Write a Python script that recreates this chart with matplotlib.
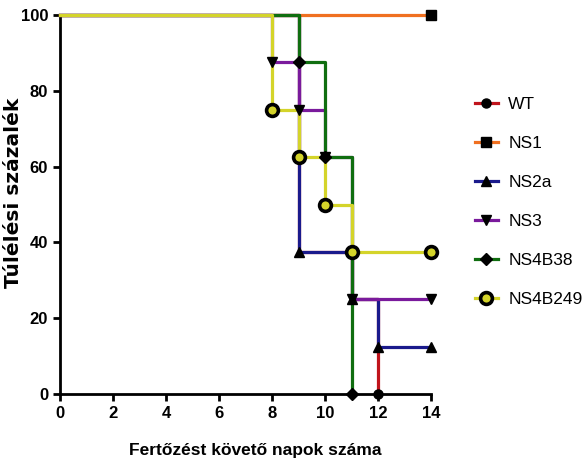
import matplotlib
matplotlib.use("Agg")
import matplotlib.pyplot as plt
from matplotlib.lines import Line2D

plt.rcParams['font.family'] = ['Liberation Sans', 'DejaVu Sans']

series_names = ["WT", "NS1", "NS2a", "NS3", "NS4B38", "NS4B249"]
colors = ["#c0141c", "#f07020", "#1a1a8c", "#7a1a9c", "#106e10", "#d4d42a"]
markers = ["o", "s", "^", "v", "D", "o"]

# step survival curves: (day, percent) after each drop
WT_t = [0, 9, 11, 12]
WT_s = [100, 37.5, 25, 0]
NS1_t = [0, 14]
NS1_s = [100, 100]
NS2a_t = [0, 9, 11, 12, 14]
NS2a_s = [100, 37.5, 25, 12.5, 12.5]
NS3_t = [0, 8, 9, 10, 11, 14]
NS3_s = [100, 87.5, 75, 62.5, 25, 25]
NS4B38_t = [0, 9, 10, 11]
NS4B38_s = [100, 87.5, 62.5, 0]
NS4B249_t = [0, 8, 9, 10, 11, 14]
NS4B249_s = [100, 75, 62.5, 50, 37.5, 37.5]

times = [WT_t, NS1_t, NS2a_t, NS3_t, NS4B38_t, NS4B249_t]
survs = [WT_s, NS1_s, NS2a_s, NS3_s, NS4B38_s, NS4B249_s]

x_ticks = [0, 2, 4, 6, 8, 10, 12, 14]
y_ticks = [0, 20, 40, 60, 80, 100]

fig = plt.figure(figsize=(5.86, 4.68), dpi=100)
ax = fig.add_axes([0.1024, 0.158, 0.6331, 0.81])

LW = 2.3
handles = []
for i, name in enumerate(series_names):
    t, s = times[i], survs[i]
    ax.step(t, s, where='post', color=colors[i], lw=LW, zorder=2 + i, clip_on=False)
    mk = markers[i]
    # WT: only its final point is visible in the figure
    mt, msv = (t[-1:], s[-1:]) if name == "WT" else (t[1:], s[1:])
    if name == "NS4B249":
        ax.plot(mt, msv, ls='none', marker='o', ms=8.5, mfc=colors[i], mec='black',
                mew=2.6, zorder=20 + i, clip_on=False)
        h = Line2D([], [], color=colors[i], lw=LW, marker='o', ms=8.5, mfc=colors[i],
                   mec='black', mew=2.6)
    else:
        ax.plot(mt, msv, ls='none', marker=mk, ms=6.5, color='black', zorder=20 + i,
                clip_on=False)
        h = Line2D([], [], color=colors[i], lw=LW, marker=mk, ms=6.5, mfc='black', mec='black')
    handles.append(h)

ax.set_xlim(0, 14)
ax.set_ylim(0, 100)
ax.set_xticks(x_ticks)
ax.set_yticks(y_ticks)
ax.spines['top'].set_visible(False)
ax.spines['right'].set_visible(False)
ax.spines['left'].set_linewidth(2)
ax.spines['bottom'].set_linewidth(2)
ax.tick_params(direction='out', width=2, length=5, labelsize=12)
for lab in ax.get_xticklabels() + ax.get_yticklabels():
    lab.set_fontweight('bold')

ax.set_xlabel("Fertőzést követő napok száma", fontsize=12.5, fontweight='bold')
ax.xaxis.set_label_coords(0.525, -0.13)
ax.set_ylabel("Túlélési százalék", fontsize=14.5, fontweight='bold',
              family=['DejaVu Sans'])
ax.yaxis.set_label_coords(-0.1, 0.53)

fig.legend(handles, series_names, loc='upper left', bbox_to_anchor=(0.8106, 0.7936),
           frameon=False, fontsize=12.5, handlelength=1.3, labelspacing=1.38,
           handletextpad=0.62, borderpad=0, borderaxespad=0)

fig.savefig("out.png", dpi=100)
